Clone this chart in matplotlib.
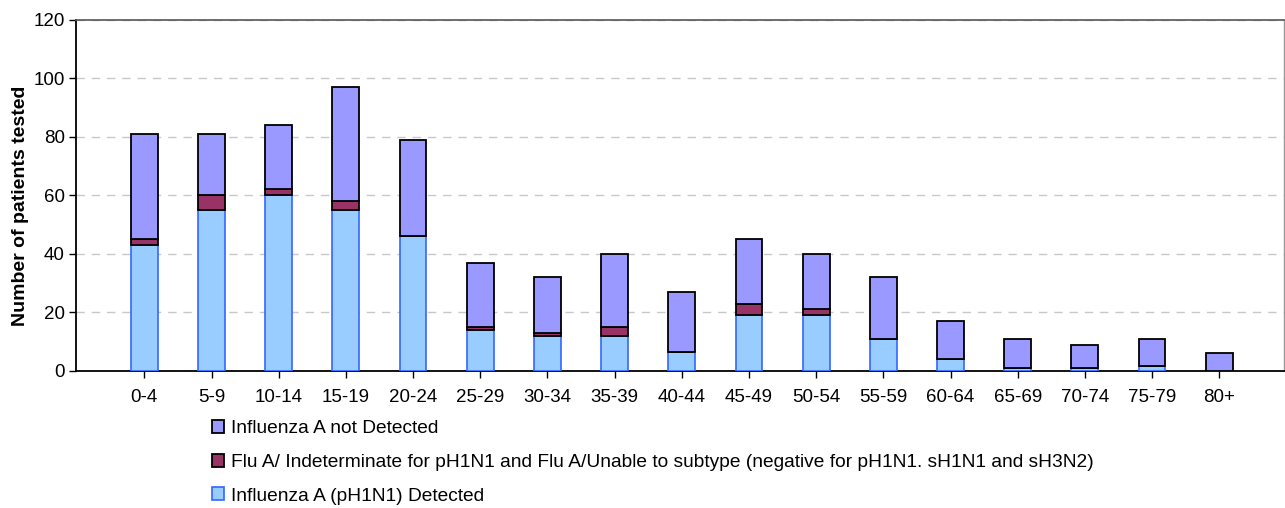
import numpy as np
import matplotlib.pyplot as plt

plt.rcParams['font.family'] = ['Liberation Sans', 'DejaVu Sans']

# Age groups and counts per group
age_groups = ['0-4', '5-9', '10-14', '15-19', '20-24', '25-29', '30-34', '35-39',
              '40-44', '45-49', '50-54', '55-59', '60-64', '65-69', '70-74', '75-79', '80+']
detected = [43, 55, 60, 55, 46, 14, 12, 12, 6.5, 19, 19, 11, 4, 1, 1, 1.5, 0]
indeterminate = [2, 5, 2, 3, 0, 1, 1, 3, 0, 4, 2, 0, 0, 0, 0, 0, 0]
not_detected = [36, 21, 22, 39, 33, 22, 19, 25, 20.5, 22, 19, 21, 13, 10, 8, 9.5, 6]

label_det = 'Influenza A (pH1N1) Detected'
label_ind = ('Flu A/ Indeterminate for pH1N1 and Flu A/Unable to subtype '
             '(negative for pH1N1. sH1N1 and sH3N2)')
label_not = 'Influenza A not Detected'

x = np.arange(len(age_groups))
det = np.array(detected)
ind = np.array(indeterminate)
nd = np.array(not_detected)
w = 0.4

fig = plt.figure(figsize=(12.85, 5.08), dpi=100)
ax = fig.add_axes([0.059, 0.27, 0.94, 0.691])

b_det = ax.bar(x, det, w, color='#99CCFF', edgecolor='#3366FF', linewidth=1.2, zorder=3)
b_ind = ax.bar(x, ind, w, bottom=det, color='#993366', edgecolor='black', linewidth=1.3, zorder=3)
b_not = ax.bar(x, nd, w, bottom=det + ind, color='#9999FF', edgecolor='black', linewidth=1.3, zorder=3)

ax.set_xlim(-1.02, 16.96)
ax.set_ylim(0, 120)
ax.set_yticks(np.arange(0, 121, 20))
ax.set_xticks(x)
ax.set_xticklabels(age_groups)
ax.tick_params(axis='x', length=5, width=1, pad=8, labelsize=13.5, colors='black')
ax.tick_params(axis='y', length=5, width=1, pad=3, labelsize=13.5)
ax.yaxis.grid(True, linestyle=(0, (6, 5)), color='#C8C8C8', linewidth=1, zorder=0)
ax.set_axisbelow(True)

for side in ['left', 'bottom']:
    ax.spines[side].set_color('black')
    ax.spines[side].set_linewidth(1.3)
ax.spines['top'].set_color('#555555')
ax.spines['top'].set_linewidth(1.2)
ax.spines['right'].set_color('#999999')
ax.spines['right'].set_linewidth(1)

ax.set_ylabel('Number of patients tested', fontsize=14, fontweight='bold')
ax.yaxis.set_label_coords(-0.039, 0.47)

leg = fig.legend([b_not, b_ind, b_det], [label_not, label_ind, label_det],
                 loc='upper left', bbox_to_anchor=(0.159, 0.188), frameon=False,
                 fontsize=13.8, handlelength=0.65, handleheight=0.65, handletextpad=0.35,
                 labelspacing=0.86, borderaxespad=0)

fig.savefig('out.png', dpi=100)
